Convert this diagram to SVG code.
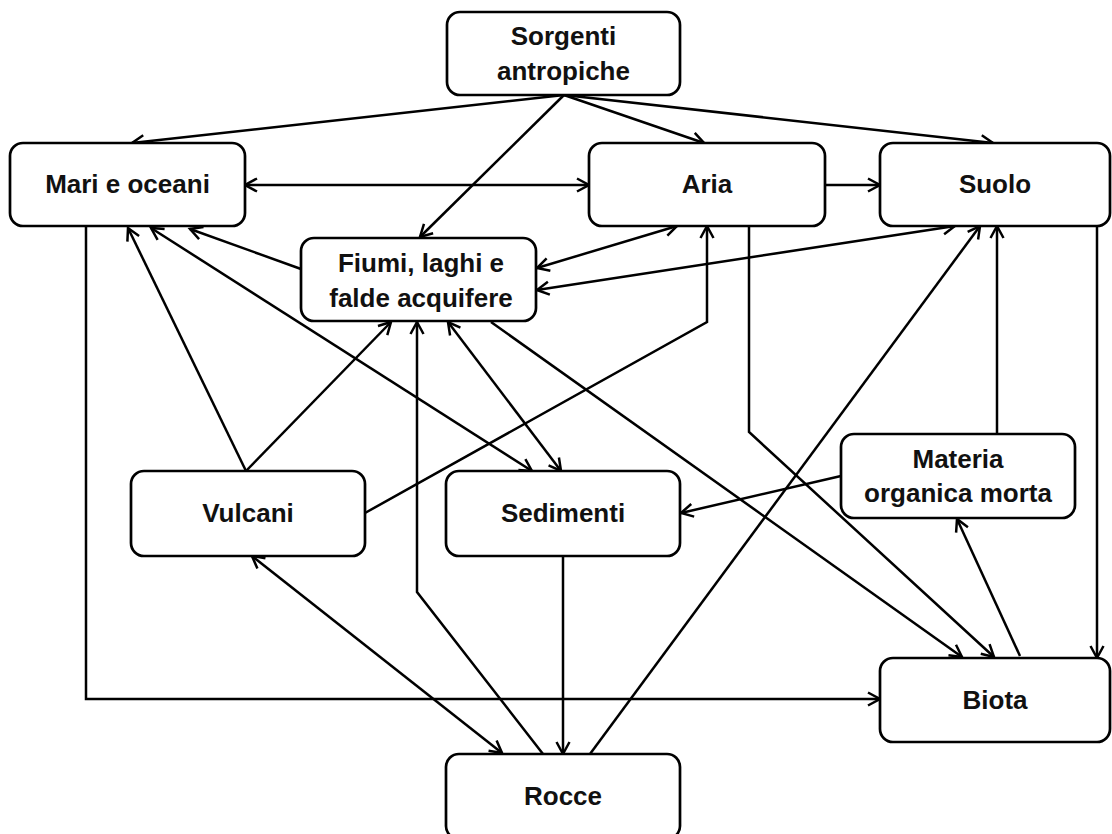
<svg xmlns="http://www.w3.org/2000/svg" width="1112" height="834" viewBox="0 0 1112 834">
<style>
.box{fill:#fff;stroke:#000;stroke-width:2.7}
.lbl{font-family:"Liberation Sans",Arial,sans-serif;font-weight:bold;font-size:26px;fill:#111;text-anchor:middle}
.c{fill:none;stroke:#000;stroke-width:2.5;stroke-linejoin:miter}
.e{marker-end:url(#ah)}
.b{marker-start:url(#ah);marker-end:url(#ah)}
</style>
<defs>
<marker id="ah" viewBox="-15 -9 17 18" refX="0" refY="0" markerWidth="17" markerHeight="18" markerUnits="userSpaceOnUse" orient="auto-start-reverse" overflow="visible">
<path d="M-12,-6.5 L0,0 L-12,6.5" fill="none" stroke="#000" stroke-width="2.5" stroke-linejoin="miter"/>
</marker>
</defs>
<rect width="1112" height="834" fill="#fff"/>
<g id="connectors">
<path class="c e" d="M564,95 L132,143"/>
<path class="c e" d="M564,95 L420,237"/>
<path class="c e" d="M564,95 L704,143"/>
<path class="c e" d="M564,95 L993,143"/>
<path class="c b" d="M245,185 L589,185"/>
<path class="c e" d="M825,185 L880,185"/>
<path class="c e" d="M301,269 L190,229"/>
<path class="c b" d="M151,228 L532,471"/>
<path class="c e" d="M246,471 L128,228"/>
<path class="c e" d="M246,471 L391,322"/>
<path class="c e" d="M543,754 L417,592 L417,322"/>
<path class="c b" d="M448,322 L561,471"/>
<path class="c e" d="M491,322 L962,657"/>
<path class="c e" d="M749,226 L749,432 L994,657"/>
<path class="c e" d="M365,513 L707,322 L707,226"/>
<path class="c b" d="M537,268 L677,226"/>
<path class="c b" d="M537,290 L955,226"/>
<path class="c e" d="M590,754 L980,226"/>
<path class="c e" d="M997,434 L997,226"/>
<path class="c e" d="M1097,226 L1097,658"/>
<path class="c e" d="M841,476 L681,513"/>
<path class="c e" d="M1020,656 L957,519"/>
<path class="c e" d="M86,226 L86,699 L880,699"/>
<path class="c b" d="M252,556 L502,753"/>
<path class="c e" d="M563,556 L563,754"/>
</g>
<g id="sorgenti"><rect class="box" x="447" y="12" width="233" height="83" rx="13"/><text class="lbl" x="563.5" y="45">Sorgenti</text><text class="lbl" x="563.5" y="80">antropiche</text></g>
<g id="mari"><rect class="box" x="10" y="143" width="235" height="83" rx="13"/><text class="lbl" x="127.5" y="193">Mari e oceani</text></g>
<g id="aria"><rect class="box" x="589" y="143" width="236" height="83" rx="13"/><text class="lbl" x="707" y="193">Aria</text></g>
<g id="suolo"><rect class="box" x="880" y="143" width="230" height="83" rx="13"/><text class="lbl" x="995" y="193">Suolo</text></g>
<g id="fiumi"><rect class="box" x="301" y="238" width="235" height="83" rx="13"/><text class="lbl" x="421" y="272">Fiumi, laghi e</text><text class="lbl" x="421" y="307">falde acquifere</text></g>
<g id="vulcani"><rect class="box" x="131" y="471" width="234" height="85" rx="13"/><text class="lbl" x="248" y="522">Vulcani</text></g>
<g id="sedimenti"><rect class="box" x="446" y="471" width="234" height="85" rx="13"/><text class="lbl" x="563" y="522">Sedimenti</text></g>
<g id="materia"><rect class="box" x="841" y="434" width="234" height="84" rx="13"/><text class="lbl" x="958" y="468">Materia</text><text class="lbl" x="958" y="502">organica morta</text></g>
<g id="biota"><rect class="box" x="880" y="658" width="230" height="84" rx="13"/><text class="lbl" x="995" y="709">Biota</text></g>
<g id="rocce"><rect class="box" x="446" y="754" width="234" height="85" rx="13"/><text class="lbl" x="563" y="805">Rocce</text></g>
</svg>
